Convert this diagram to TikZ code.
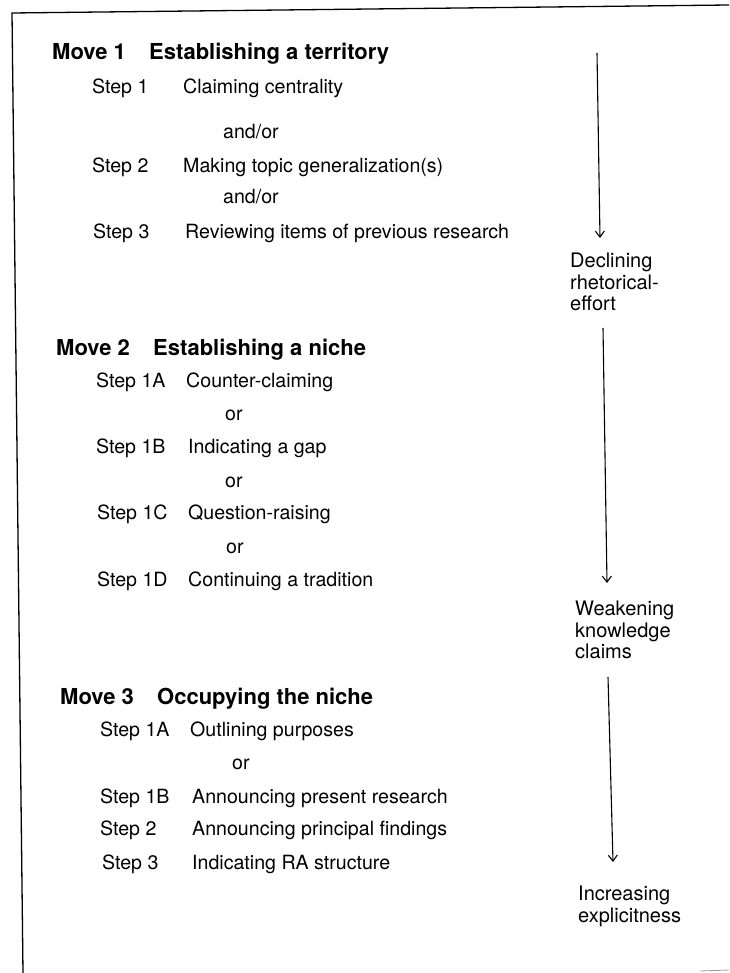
\documentclass[tikz,border=0pt]{standalone}
\usepackage{fontspec}
\setmainfont{TeX Gyre Heros}
\usetikzlibrary{arrows.meta,positioning}

\begin{document}
\begin{tikzpicture}[
    x=1pt, y=-1pt,
    >={Straight Barb[length=6pt,width=9pt]},
    every node/.style={inner sep=0pt, anchor=base west},
    movelbl/.style={font=\fontsize{22}{26}\selectfont\bfseries},
    steplbl/.style={font=\fontsize{19.6}{23}\selectfont},
    conj/.style={font=\fontsize{19.6}{23}\selectfont},
    effect/.style={font=\fontsize{20}{21.5}\selectfont, align=left, anchor=north west},
    trend/.style={->, line width=1.1pt}
  ]
    \useasboundingbox (0,0) rectangle (729,973);

    % frame
    \draw[line width=1.3pt] (729,5) -- (12,13) -- (23,973);
    \draw[line width=0.8pt, black!40] (700,971) -- (729,970);

    % Move 1
    \node[movelbl] (m1) at (52,60) {Move 1};
    \node[movelbl] (m1t) at (149,60) {Establishing a territory};
    \node[steplbl] (m1s1) at (92,93.5) {Step 1};
    \node[steplbl] (m1s1t) at (183,93.5) {Claiming centrality};
    \node[conj] (m1c1) at (223,138.5) {and/or};
    \node[steplbl] (m1s2) at (92,172.5) {Step 2};
    \node[steplbl] (m1s2t) at (183,172.5) {Making topic generalization(s)};
    \node[conj] (m1c2) at (223,203.5) {and/or};
    \node[steplbl] (m1s3) at (93,238.5) {Step 3};
    \node[steplbl] (m1s3t) at (185,238.5) {Reviewing items of previous research};

    % Move 2
    \node[movelbl] (m2) at (56,355) {Move 2};
    \node[movelbl] (m2t) at (153,355) {Establishing a niche};
    \node[steplbl] (m2s1a) at (96,387.5) {Step 1A};
    \node[steplbl] (m2s1at) at (186,387.5) {Counter-claiming};
    \node[conj] (m2c1) at (225,420.5) {or};
    \node[steplbl] (m2s1b) at (96,453.5) {Step 1B};
    \node[steplbl] (m2s1bt) at (188,453.5) {Indicating a gap};
    \node[conj] (m2c2) at (225,487.5) {or};
    \node[steplbl] (m2s1c) at (97,519.5) {Step 1C};
    \node[steplbl] (m2s1ct) at (188,519.5) {Question-raising};
    \node[conj] (m2c3) at (226,553.5) {or};
    \node[steplbl] (m2s1d) at (97,586.5) {Step 1D};
    \node[steplbl] (m2s1dt) at (188,586.5) {Continuing a tradition};

    % Move 3
    \node[movelbl] (m3) at (60,704) {Move 3};
    \node[movelbl] (m3t) at (157,704) {Occupying the niche};
    \node[steplbl] (m3s1a) at (100,736.5) {Step 1A};
    \node[steplbl] (m3s1at) at (190,736.5) {Outlining purposes};
    \node[conj] (m3c1) at (232,769.5) {or};
    \node[steplbl] (m3s1b) at (100,803.5) {Step 1B};
    \node[steplbl] (m3s1bt) at (192,803.5) {Announcing present research};
    \node[steplbl] (m3s2) at (100,835.5) {Step 2};
    \node[steplbl] (m3s2t) at (192,835.5) {Announcing principal findings};
    \node[steplbl] (m3s3) at (102,869.5) {Step 3};
    \node[steplbl] (m3s3t) at (192,869.5) {Indicating RA structure};

    % right column
    \node[effect] (decl) at (570,253) {Declining\\rhetorical-\\effort};
    \node[effect] (weak) at (575,601) {Weakening\\knowledge\\claims};
    \node[effect] (incr) at (578,886) {Increasing\\explicitness};

    \coordinate (a1) at (597,53);
    \coordinate (a1e) at (600,238);
    \coordinate (a2) at (603,328);
    \coordinate (a2e) at (607,583);
    \coordinate (a3) at (608,677);
    \coordinate (a3e) at (613,862);
    \draw[trend] (a1) -- (a1e);
    \draw[trend] (a2) -- (a2e);
    \draw[trend] (a3) -- (a3e);

\end{tikzpicture}
\end{document}
